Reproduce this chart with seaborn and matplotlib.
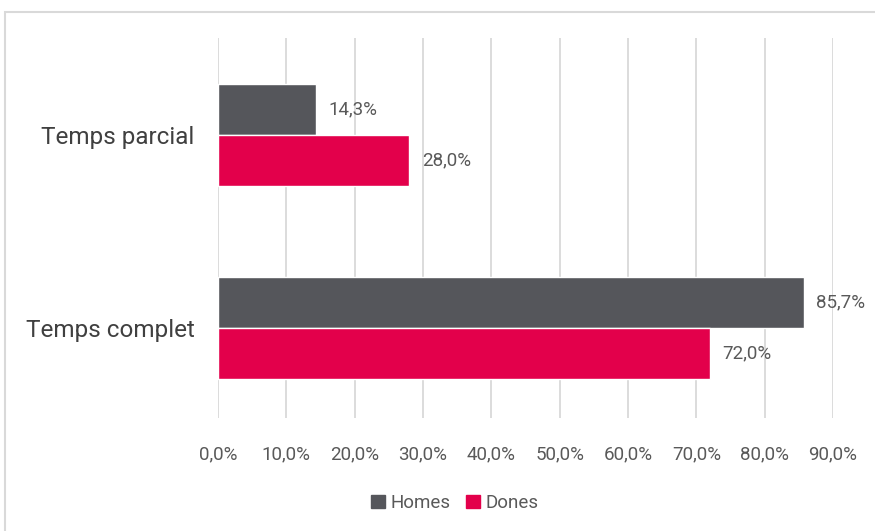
import matplotlib
matplotlib.use("Agg")
import matplotlib.pyplot as plt
import seaborn as sns
import pandas as pd
from matplotlib.patches import Rectangle
from matplotlib.ticker import FuncFormatter

categories = ["Temps parcial", "Temps complet"]
series = ["Homes", "Dones"]
homes = [0.143, 0.857]
dones = [0.280, 0.720]
colors = ["#55565b", "#e3004b"]
xticks = [0.0, 0.1, 0.2, 0.3, 0.4, 0.5, 0.6, 0.7, 0.8, 0.9]

df = pd.DataFrame({
    "cat": categories * 2,
    "serie": [series[0]] * 2 + [series[1]] * 2,
    "val": homes + dones,
})

sns.set_theme(style="white")
plt.rcParams["font.family"] = ["Roboto", "DejaVu Sans"]
txt = "#595959"

fig = plt.figure(figsize=(8.75, 5.31), dpi=100)
ax = fig.add_axes([218/875, 1-418/531, (833-218)/875, (418-38)/531])

sns.barplot(data=df, y="cat", x="val", hue="serie", order=categories,
            hue_order=series, palette=colors, orient="h", width=0.528,
            ax=ax, saturation=1, legend=False)

ax.set_xlim(0, 0.9)
ax.set_ylim(1.466, -0.5026)
ax.set_xticks(xticks)
ax.xaxis.set_major_formatter(FuncFormatter(lambda v, p: f"{v*100:.1f}%".replace(".", ",")))
ax.grid(axis="x", color="#d9d9d9", linewidth=1.3)
ax.set_axisbelow(True)
for s in ax.spines.values():
    s.set_visible(False)
ax.set_xlabel("")
ax.set_ylabel("")
ax.tick_params(axis="x", length=0, pad=20, labelsize=13.5, labelcolor=txt)
ax.tick_params(axis="y", length=0, pad=17, labelsize=17.5, labelcolor="#404040")

for cont in ax.containers:
    for bar in cont:
        w = bar.get_width()
        y = bar.get_y() + bar.get_height()/2
        ax.annotate(f"{w*100:.1f}%".replace(".", ","), (w, y), xytext=(9, 0),
                    textcoords="offset points", va="center", ha="left",
                    fontsize=13.5, color=txt)

handles = [Rectangle((0, 0), 1, 1, color=c) for c in colors]
fig.legend(handles, series, loc="center", bbox_to_anchor=(0.52, 1-503/531),
           ncol=2, frameon=False, fontsize=13.5, labelcolor=txt,
           handlelength=0.75, handleheight=0.75, handletextpad=0.3, columnspacing=0.8)

fig.patches.append(Rectangle((5/875, -0.1), 1.2, 1-12/531+0.1, transform=fig.transFigure,
                             fill=False, edgecolor="#d9d9d9", linewidth=1.5))

fig.savefig("out.png", dpi=100)
